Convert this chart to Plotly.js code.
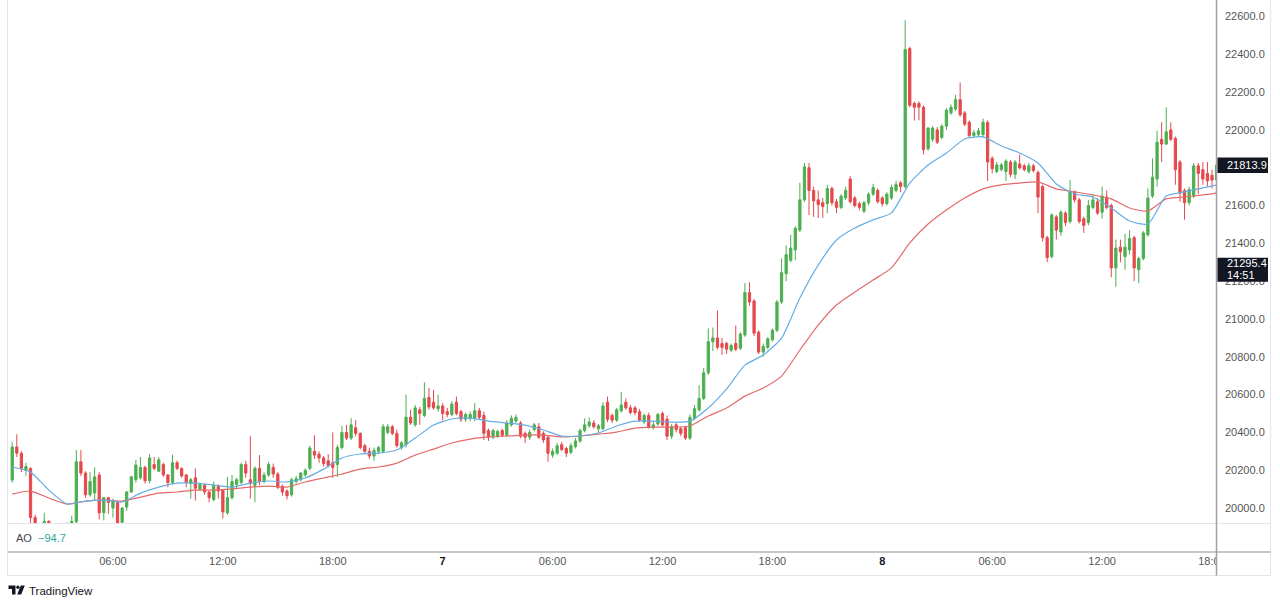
<!DOCTYPE html>
<html><head><meta charset="utf-8">
<script src="https://cdn.plot.ly/plotly-3.0.1.min.js"></script>
<style>html,body{margin:0;padding:0;background:#fff;} #chart{width:1280px;height:604px;}</style>
</head><body><div id="chart"></div>
<script>
// ---- data (15-minute candles, first bar 00:30 on day 6) ----
const barMinutes = 15;
const openP = [
20148,20323,20290,20200,20210,19950,19900,19880,19930,19900,
19880,19890,19870,19900,19928,20245,20185,20070,20080,20175,
19975,20055,20000,20030,19925,20005,20085,20150,20160,20215,
20145,20230,20195,20230,20175,20135,20240,20210,20175,20130,
20160,20100,20120,20085,20045,20115,20095,19975,20055,20125,
20135,20230,20150,20120,20210,20140,20175,20215,20180,20115,
20090,20070,20140,20150,20175,20210,20300,20285,20265,20250,
20240,20230,20320,20400,20370,20425,20395,20330,20300,20275,
20300,20300,20400,20430,20395,20320,20335,20480,20440,20520,
20490,20585,20560,20525,20540,20510,20495,20560,20510,20470,
20475,20475,20515,20490,20410,20375,20380,20410,20385,20440,
20460,20450,20395,20375,20415,20430,20395,20375,20280,20290,
20335,20315,20295,20325,20355,20410,20435,20450,20420,20420,
20560,20490,20465,20515,20560,20530,20530,20510,20455,20490,
20425,20445,20500,20470,20380,20440,20420,20425,20370,20475,
20520,20580,20715,20880,20900,20870,20870,20835,20870,20845,
20915,21140,21095,20930,20825,20850,20890,20940,21090,21240,
21310,21365,21470,21630,21800,21680,21630,21615,21610,21690,
21620,21590,21640,21740,21640,21610,21570,21615,21660,21680,
21640,21610,21640,21680,21720,21700,22430,22140,22140,22120,
21900,21950,22000,21960,22020,22090,22110,22160,22090,22040,
21970,21975,21975,22040,21850,21780,21790,21780,21830,21765,
21820,21810,21780,21810,21775,21700,21430,21330,21540,21460,
21560,21515,21670,21630,21530,21510,21590,21620,21565,21645,
21600,21270,21380,21330,21365,21430,21260,21320,21445,21650,
21740,21950,21925,22000,21955,21830,21680,21615,21650,21810,
21790,21770,21760,21735];
const highP = [
20350,20390,20300,20240,20215,19965,19915,19975,19935,19915,
19910,19905,19925,19960,20307,20307,20195,20190,20215,20190,
20060,20060,20050,20040,20005,20090,20170,20255,20270,20225,
20285,20270,20270,20240,20180,20282,20250,20215,20180,20160,
20210,20135,20130,20090,20140,20125,20100,20165,20175,20160,
20240,20250,20380,20220,20280,20190,20245,20235,20190,20125,
20100,20160,20170,20190,20210,20330,20385,20300,20275,20285,
20400,20335,20435,20440,20475,20465,20400,20340,20320,20320,
20330,20445,20445,20440,20415,20355,20600,20520,20545,20535,
20665,20635,20625,20600,20555,20530,20565,20590,20520,20505,
20510,20555,20530,20510,20420,20420,20415,20420,20465,20490,
20495,20460,20405,20415,20450,20450,20405,20385,20315,20345,
20350,20325,20345,20370,20420,20475,20480,20465,20445,20560,
20590,20500,20530,20615,20580,20545,20540,20525,20500,20505,
20460,20505,20510,20490,20445,20450,20430,20435,20495,20545,
20650,20740,20950,20955,21045,20900,20880,20870,20965,20930,
21190,21195,21105,20940,20870,20905,20950,21100,21320,21390,
21445,21490,21720,21825,21825,21700,21680,21640,21710,21700,
21635,21660,21700,21755,21650,21620,21625,21670,21715,21690,
21650,21670,21710,21730,21730,22580,22440,22150,22150,22130,
22015,22020,22015,22030,22115,22135,22185,22250,22100,22050,
22000,22010,22060,22050,21860,21830,21825,21845,21840,21840,
21870,21820,21825,21820,21785,21710,21440,21560,21550,21575,
21570,21735,21680,21640,21540,21630,21655,21640,21700,21680,
21610,21420,21420,21450,21470,21440,21330,21465,21690,21850,
21995,22040,22120,22040,21965,21840,21690,21700,21825,21825,
21830,21830,21790,21840];
const lowP = [
20135,20270,20190,20170,19900,19880,19840,19860,19860,19850,
19840,19830,19850,19880,19900,20170,20055,20060,20040,19940,
19935,19970,19950,19880,19900,19985,20080,20135,20150,20130,
20130,20200,20190,20165,20110,20125,20200,20160,20110,20050,
20040,20090,20070,20030,20035,20050,19945,19965,20045,20100,
20125,20160,20050,20030,20120,20130,20165,20160,20100,20065,
20045,20060,20130,20140,20165,20200,20260,20240,20220,20215,
20160,20165,20310,20360,20360,20380,20310,20290,20260,20250,
20285,20290,20390,20385,20320,20310,20320,20440,20430,20440,
20480,20520,20520,20510,20465,20480,20485,20490,20455,20455,
20460,20460,20470,20360,20355,20365,20370,20375,20375,20430,
20450,20370,20345,20360,20405,20365,20345,20245,20265,20280,
20300,20270,20285,20315,20345,20400,20425,20420,20400,20410,
20455,20450,20455,20505,20520,20495,20490,20455,20445,20420,
20415,20435,20430,20360,20365,20400,20380,20360,20360,20465,
20510,20570,20705,20830,20840,20810,20815,20825,20830,20835,
20905,21070,20910,20815,20800,20840,20880,20930,21080,21200,
21300,21310,21460,21620,21550,21540,21535,21535,21560,21600,
21560,21580,21630,21610,21590,21575,21560,21600,21650,21610,
21595,21600,21630,21670,21670,21690,22120,22050,22050,21870,
21890,21935,21925,21950,22000,22080,22100,22070,22020,21960,
21960,21965,21960,21730,21770,21770,21780,21730,21750,21740,
21790,21780,21770,21775,21560,21410,21300,21320,21420,21440,
21490,21505,21615,21505,21455,21495,21580,21550,21530,21580,
21220,21170,21300,21260,21340,21200,21190,21310,21435,21640,
21700,21830,21920,21940,21710,21620,21525,21600,21640,21660,
21710,21700,21690,21730];
const closeP = [
20323,20290,20210,20220,19950,19915,19870,19930,19900,19880,
19890,19870,19900,19930,20245,20185,20070,20140,20165,19975,
20055,20030,20040,19910,20000,20085,20165,20228,20215,20145,
20265,20210,20255,20175,20135,20240,20210,20170,20135,20150,
20105,20125,20085,20055,20120,20090,19980,20055,20140,20150,
20230,20185,20130,20210,20140,20175,20230,20180,20110,20085,
20065,20150,20155,20185,20200,20318,20280,20265,20235,20225,
20215,20320,20400,20370,20440,20395,20320,20300,20275,20305,
20320,20430,20430,20395,20330,20345,20480,20450,20530,20500,
20580,20535,20530,20540,20500,20495,20550,20500,20470,20495,
20495,20515,20480,20395,20375,20410,20405,20385,20450,20475,
20480,20380,20375,20400,20440,20375,20360,20290,20300,20330,
20310,20290,20330,20355,20410,20440,20455,20430,20435,20540,
20470,20465,20520,20545,20530,20505,20505,20465,20490,20430,
20440,20495,20440,20380,20430,20415,20395,20370,20480,20525,
20580,20715,20880,20900,20850,20850,20840,20860,20840,20920,
21140,21090,20925,20825,20855,20895,20940,21090,21245,21340,
21375,21480,21630,21805,21680,21625,21605,21595,21690,21615,
21590,21650,21680,21620,21600,21590,21615,21660,21695,21620,
21610,21660,21695,21710,21700,22425,22130,22120,22120,21895,
22010,22010,21935,22020,22105,22120,22160,22080,22030,21970,
21985,21995,22040,21830,21795,21815,21815,21835,21765,21830,
21800,21790,21810,21785,21645,21430,21325,21550,21470,21565,
21510,21675,21630,21515,21495,21600,21630,21560,21650,21590,
21270,21375,21355,21380,21425,21270,21320,21455,21640,21750,
21935,21925,21990,21950,21790,21665,21615,21685,21810,21770,
21740,21730,21735,21813.9];
// moving averages read hourly (every 4th bar) plus the last bar
const fastMA = [20217,20190,20095,20021,20037,20042,20032,20079,20111,20132,20132,20122,20111,20132,20143,20138,20159,20206,20265,20286,20291,20307,20370,20439,20471,20476,20460,20450,20439,20413,20381,20381,20397,20434,20460,20460,20455,20460,20529,20630,20756,20809,20899,21111,21285,21418,21481,21524,21561,21719,21814,21878,21952,21963,21915,21878,21825,21714,21661,21645,21587,21518,21502,21650,21672,21693,21709];
const slowMA = [20074,20090,20053,20021,20037,20042,20037,20058,20079,20085,20095,20095,20101,20111,20116,20111,20138,20159,20180,20206,20217,20238,20280,20312,20344,20365,20376,20381,20386,20386,20376,20381,20391,20402,20423,20428,20428,20434,20487,20529,20592,20635,20698,20836,20968,21074,21143,21206,21270,21402,21502,21576,21640,21688,21709,21719,21725,21688,21672,21656,21635,21587,21571,21635,21645,21656,21666];
// price scale labels (21800.0 is hidden behind the last-price label in the reference)
const priceTicks = [20000,20200,20400,20600,20800,21000,21200,21400,21600,22000,22200,22400,22600];
const timeTickVals = ['2025-01-06 06:00','2025-01-06 12:00','2025-01-06 18:00','2025-01-07 00:00','2025-01-07 06:00','2025-01-07 12:00','2025-01-07 18:00','2025-01-08 00:00','2025-01-08 06:00','2025-01-08 12:00','2025-01-08 18:00'];
const timeTickLabels = ['06:00','12:00','18:00','7','06:00','12:00','18:00','8','06:00','12:00','18:00'];
const markerPrice = 21295.4;
const countdown = '14:51';
const aoValue = '\u221294.7';

// ---- build ----
const t0 = Date.UTC(2025,0,6,0,30);
const p2 = n => String(n).padStart(2,'0');
function fmt(ms){const d=new Date(ms);return d.getUTCFullYear()+'-'+p2(d.getUTCMonth()+1)+'-'+p2(d.getUTCDate())+' '+p2(d.getUTCHours())+':'+p2(d.getUTCMinutes())+':'+p2(d.getUTCSeconds());}
const barMs = barMinutes*60000;
const times = closeP.map((_,i)=>fmt(t0+i*barMs));
const maIdx = [];
for(let i=0;i<closeP.length;i+=4) maIdx.push(i);
if(maIdx[maIdx.length-1]!==closeP.length-1) maIdx.push(closeP.length-1);
const maTimes = maIdx.map(i=>times[i]);

const GREEN='#4caf50', RED='#e5484d';
const traces = [
 {type:'candlestick', x:times, open:openP, high:highP, low:lowP, close:closeP,
  increasing:{line:{color:GREEN,width:1},fillcolor:GREEN},
  decreasing:{line:{color:RED,width:1},fillcolor:RED},
  whiskerwidth:0, hoverinfo:'none'},
 {type:'scatter', mode:'lines', x:maTimes, y:slowMA, line:{color:'#e36a6a',width:1.2,shape:'spline',smoothing:0.6}, hoverinfo:'none'},
 {type:'scatter', mode:'lines', x:maTimes, y:fastMA, line:{color:'#67ade3',width:1.2,shape:'spline',smoothing:0.6}, hoverinfo:'none'}
];

// pixel helpers for chrome
const L=8, R=1216, T=0, B=523, W=R-L, H=B-T;
const px = x => (x-L)/W;
const py = y => (B-y)/H;
const yPerPx = (22687-19921)/H;
const FONT = 'Liberation Sans, Arial, sans-serif';
const lastClose = closeP[closeP.length-1];

const shapes = [
 {type:'rect', xref:'paper', yref:'paper', x0:px(1217), x1:px(1269.5), y0:py(574.5), y1:py(553), fillcolor:'#ffffff', line:{width:0}, layer:'above'},
 {type:'line', xref:'paper', yref:'paper', x0:px(7.5), x1:px(7.5), y0:py(0), y1:py(575.5), line:{color:'#e3e5ea',width:1}},
 {type:'line', xref:'paper', yref:'paper', x0:px(1270.5), x1:px(1270.5), y0:py(0), y1:py(575.5), line:{color:'#e3e5ea',width:1}},
 {type:'line', xref:'paper', yref:'paper', x0:px(7.5), x1:px(1270.5), y0:py(575.5), y1:py(575.5), line:{color:'#e3e5ea',width:1}},
 {type:'line', xref:'paper', yref:'paper', x0:px(7.5), x1:px(1270.5), y0:py(523.5), y1:py(523.5), line:{color:'#e3e5ea',width:1}, layer:'above'},
 {type:'line', xref:'paper', yref:'paper', x0:px(7.5), x1:px(1270.5), y0:py(552), y1:py(552), line:{color:'#8f8f8f',width:1.2}, layer:'above'},
 {type:'line', xref:'paper', yref:'paper', x0:px(1216.5), x1:px(1216.5), y0:py(0), y1:py(575.5), line:{color:'#a0a0a0',width:1.5}, layer:'above'},
 // last price label box
 {type:'rect', xref:'paper', yref:'y', x0:px(1217.5), x1:px(1268), y0:lastClose-8*yPerPx, y1:lastClose+7.5*yPerPx, fillcolor:'#131722', line:{width:0}, layer:'above'},
 // marker price + countdown box
 {type:'rect', xref:'paper', yref:'y', x0:px(1217.5), x1:px(1268), y0:markerPrice-18.5*yPerPx, y1:markerPrice+5.5*yPerPx, fillcolor:'#131722', line:{width:0}, layer:'above'},
 // TradingView logo
 {type:'path', xref:'paper', yref:'paper', path:`M ${px(8.5)} ${py(585.5)} L ${px(15.5)} ${py(585.5)} L ${px(15.5)} ${py(594.5)} L ${px(12)} ${py(594.5)} L ${px(12)} ${py(589)} L ${px(8.5)} ${py(589)} Z`, fillcolor:'#131722', line:{width:0}, layer:'above'},
 {type:'circle', xref:'paper', yref:'paper', x0:px(16.3), x1:px(19.5), y0:py(589), y1:py(585.6), fillcolor:'#131722', line:{width:0}, layer:'above'},
 {type:'path', xref:'paper', yref:'paper', path:`M ${px(20.8)} ${py(585.5)} L ${px(24.8)} ${py(585.5)} L ${px(21.2)} ${py(594.5)} L ${px(17.2)} ${py(594.5)} Z`, fillcolor:'#131722', line:{width:0}, layer:'above'}
];

const annotations = [
 {xref:'paper', yref:'y', x:px(1225), y:lastClose, xanchor:'left', yanchor:'middle', showarrow:false,
  text:lastClose.toFixed(1), font:{family:FONT,size:11,color:'#ffffff'}},
 {xref:'paper', yref:'y', x:px(1225), y:markerPrice, xanchor:'left', yanchor:'middle', showarrow:false,
  text:markerPrice.toFixed(1), font:{family:FONT,size:11,color:'#ffffff'}},
 {xref:'paper', yref:'y', x:px(1225), y:markerPrice-12*yPerPx, xanchor:'left', yanchor:'middle', showarrow:false,
  text:countdown, font:{family:FONT,size:11,color:'#ffffff'}},
 {xref:'paper', yref:'paper', x:px(14), y:py(537.5), xanchor:'left', yanchor:'middle', showarrow:false,
  text:'AO  <span style="color:#26a69a">'+aoValue+'</span>', font:{family:FONT,size:11,color:'#434651'}},
 {xref:'paper', yref:'paper', x:px(26.5), y:py(590.5), xanchor:'left', yanchor:'middle', showarrow:false,
  text:'TradingView', font:{family:FONT,size:11.5,color:'#131722'}}
];

const xRange = [fmt(t0-0.92*barMs), fmt(t0+262.87*barMs)];
const layout = {
 width:1280, height:604, margin:{l:L, r:1280-R, t:T, b:604-B, pad:0},
 paper_bgcolor:'#ffffff', plot_bgcolor:'#ffffff', showlegend:false, hovermode:false,
 xaxis:{type:'date', range:xRange, showgrid:false, zeroline:false, showline:false, ticks:'',
  tickvals:timeTickVals,
  ticktext:timeTickLabels.map(s=>s.indexOf(':')<0?'<b><span style="color:#131722">'+s+'</span></b>':s),
  ticklabelstandoff:30, tickfont:{family:FONT,size:11,color:'#555555'},
  rangeslider:{visible:false}, fixedrange:true},
 yaxis:{side:'right', range:[19921,22687], showgrid:false, zeroline:false, showline:false, ticks:'',
  tickvals:priceTicks, ticktext:priceTicks.map(v=>v.toFixed(1)),
  ticklabelstandoff:8, tickfont:{family:FONT,size:11,color:'#555555'}, fixedrange:true},
 shapes:shapes, annotations:annotations
};
Plotly.newPlot('chart', traces, layout, {displayModeBar:false, staticPlot:true});
</script>
</body></html>
